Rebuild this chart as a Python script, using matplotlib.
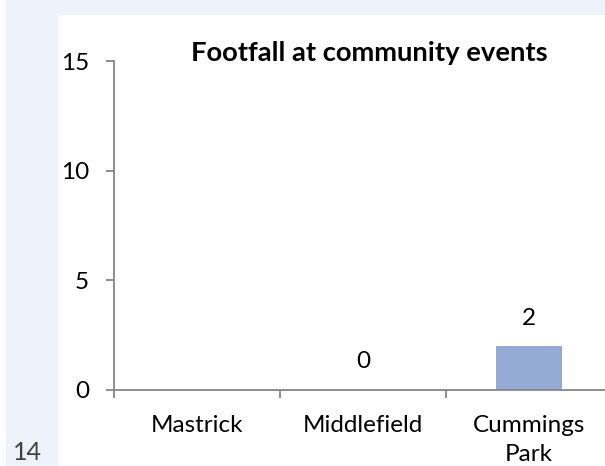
import numpy as np
import matplotlib.pyplot as plt
from matplotlib.patches import Rectangle

categories = ['Mastrick', 'Middlefield', 'Cummings\nPark']
values = [np.nan, 0, 2]
title = 'Footfall at community events'
page_number = '14'

plt.rcParams['font.family'] = ['Lato', 'DejaVu Sans']

fig = plt.figure(figsize=(6.05, 4.66), dpi=100)
fig.patch.set_facecolor('#eef3fb')

# white page strip and chart panel
fig.patches.append(Rectangle((0, 0), 6 / 605, 1, transform=fig.transFigure,
                             facecolor='white', edgecolor='none', zorder=0))
fig.patches.append(Rectangle((58 / 605, 0), 1, 1 - 15 / 466, transform=fig.transFigure,
                             facecolor='white', edgecolor='none', zorder=0))

ax = fig.add_axes([114 / 605, 76 / 466, 498 / 605, 329 / 466])
ax.set_facecolor('none')
ax.set_zorder(2)

x = np.arange(len(categories))
bars = ax.bar(x, values, width=0.4, color='#95aad4', zorder=2)
for xi, v in zip(x, values):
    if not np.isnan(v):
        ax.text(xi, v + 0.8, f'{v:g}', ha='center', va='bottom', fontsize=17.5)

ax.set_xlim(-0.5, len(categories) - 0.5)
ax.set_ylim(0, 15)
ax.set_yticks([0, 5, 10, 15])
ax.set_xticks(x)
ax.set_xticklabels(categories, fontsize=17.5, linespacing=1.45)
ax.set_xticks(np.arange(len(categories) + 1) - 0.5, minor=True)
ax.tick_params(axis='x', which='major', length=0, pad=18)
ax.tick_params(axis='x', which='minor', length=6, width=1.3, color='#868686')
ax.tick_params(axis='y', length=6, width=1.3, color='#868686', labelsize=17.5, pad=12)

for side in ['top', 'right']:
    ax.spines[side].set_visible(False)
for side in ['left', 'bottom']:
    ax.spines[side].set_color('#868686')
    ax.spines[side].set_linewidth(1.3)

fig.text(369 / 605, 1 - 53 / 466, title, ha='center', va='center',
         fontsize=19.7, fontweight='bold')
fig.text(27 / 605, 1 - 453 / 466, page_number, ha='center', va='center',
         fontsize=18, color='#404040')

fig.savefig('out.png', dpi=100)
